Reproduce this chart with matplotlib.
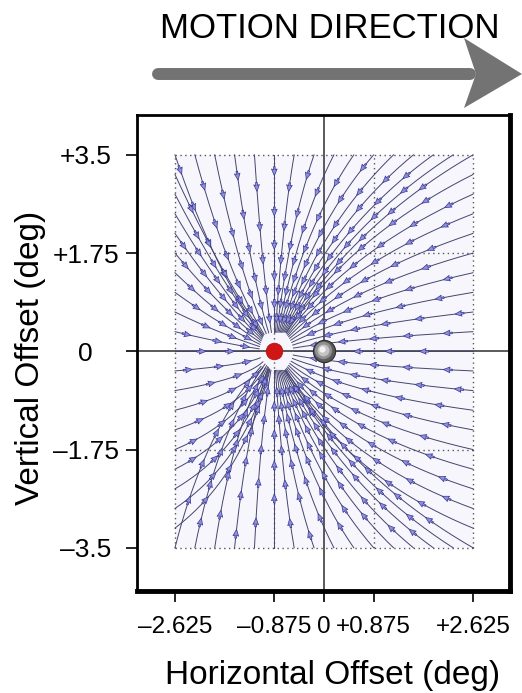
import numpy as np
import matplotlib
matplotlib.use('Agg')  # no display
import matplotlib.pyplot as plt
from matplotlib import font_manager
from matplotlib.patches import Polygon, Rectangle
from matplotlib.lines import Line2D

# positions (deg)
sink_x, sink_y = -0.875, 0.0      # red dot, where the lines converge
fix_x, fix_y = 0.0, 0.0           # gray sphere

field_x = [-2.625, 2.625]
field_y = [-3.5, 3.5]

# start points of the lines along the field border
edge_x = [-2.625, -2.275, -1.925, -1.575, -1.225, -0.875, -0.525, -0.175,
          0.175, 0.525, 0.875, 1.225, 1.575, 1.925, 2.275, 2.625]
edge_y = [-3.15, -2.8, -2.45, -2.1, -1.75, -1.4, -1.05, -0.7, -0.35, 0.0,
          0.35, 0.7, 1.05, 1.4, 1.75, 2.1, 2.45, 2.8, 3.15]

# bend of each group of lines: control point as share of the way (x, y)
bend = {
    'top_l': (0.4, 0.6), 'top_r': (0.6, 0.35),
    'bot_l': (0.3, 0.6), 'bot_r': (0.6, 0.35),
    'left_u': (0.45, 0.55), 'left_l': (0.7, 0.3),
    'right_u': (0.62, 0.35), 'right_l': (0.65, 0.3),
}
arrow_gap = [0.25, 0.75, 1.3, 1.9, 2.6, 3.3]   # arrow distances back from line end

x_ticks = [-2.625, -0.875, 0, 0.875, 2.625]
x_labels = ['\u20132.625', '\u20130.875', '0', '+0.875', '+2.625']
y_ticks = [3.5, 1.75, 0, -1.75, -3.5]
y_labels = ['+3.5', '+1.75', '0', '\u20131.75', '\u20133.5']
grid_x = [-2.625, -0.875, 0.875, 2.625]
grid_y = [-3.5, -1.75, 1.75, 3.5]

SANS = ['Liberation Sans', 'DejaVu Sans']
installed = {f.name for f in font_manager.fontManager.ttflist}
if 'Liberation Sans Narrow' in installed:
    TICK_FONT, X_SIZE, Y_SIZE = ['Liberation Sans Narrow', 'DejaVu Sans'], 21, 21
else:
    TICK_FONT, X_SIZE, Y_SIZE = SANS, 17.5, 19
W, H = 522, 693


def trace(sx, sy, group):
    """curved path from a border point towards the red dot"""
    S = np.array([sx, sy])
    R = np.array([sink_x, sink_y])
    ax_, ay_ = bend[group]
    C = S + (R - S) * np.array([ax_, ay_])
    dist = np.hypot(*(S - R))
    dc = C - R
    nc = np.hypot(*dc)
    if nc < 1e-9:
        dc, nc = S - R, dist
    E = R + dc / nc * (0.2 + 0.04 * dist)
    s = np.linspace(0, 1, 200)[:, None]
    P = (1 - s) ** 2 * S + 2 * s * (1 - s) * C + s ** 2 * E
    return P[:, 0], P[:, 1]


starts = []
for x in edge_x:
    starts.append((x, field_y[1], 'top_l' if x <= sink_x else 'top_r'))
    starts.append((x, field_y[0], 'bot_l' if x <= sink_x else 'bot_r'))
for y in edge_y:
    starts.append((field_x[0], y, 'left_u' if y >= 0 else 'left_l'))
    starts.append((field_x[1], y, 'right_u' if y >= 0 else 'right_l'))

fig = plt.figure(figsize=(W / 100, H / 100), dpi=100)
ax = fig.add_axes([137 / W, 1 - 591 / H, 373 / W, 476 / H])
ax.set_xlim(-3.294, 3.277)
ax.set_ylim(-4.27, 4.21)

ax.add_patch(Rectangle((field_x[0], field_y[0]), field_x[1] - field_x[0],
                       field_y[1] - field_y[0], facecolor='#f6f6fc',
                       edgecolor='none', zorder=0))
for gx in grid_x:
    ax.plot([gx, gx], field_y, color='#555555', ls=(0, (1, 2.5)), lw=1.0, zorder=1)
for gy in grid_y:
    ax.plot(field_x, [gy, gy], color='#555555', ls=(0, (1, 2.5)), lw=1.0, zorder=1)

ax.axhline(fix_y, color='#4d4d4d', lw=1.3, zorder=2)
ax.axvline(fix_x, color='#4d4d4d', lw=1.3, zorder=2)

qx, qy, qu, qv = [], [], [], []
for i, (sx, sy, group) in enumerate(starts):
    x, y = trace(sx, sy, group)
    ax.plot(x, y, color='#45456e', lw=0.7, zorder=3)
    seg = np.hypot(np.diff(x), np.diff(y))
    left = np.concatenate([[0], np.cumsum(seg)])
    left = left[-1] - left          # distance still to go
    shift = 0.13 * (i % 4)
    for g in arrow_gap:
        g = g + shift
        if g > left[0] - 0.2:
            break
        j = np.clip(np.argmin(np.abs(left - g)), 1, len(x) - 2)
        u, v = x[j + 1] - x[j - 1], y[j + 1] - y[j - 1]
        n = np.hypot(u, v)
        qx.append(x[j])
        qy.append(y[j])
        qu.append(u / n * 0.16)
        qv.append(v / n * 0.16)

ax.quiver(qx, qy, qu, qv, angles='xy', scale_units='xy', scale=1, pivot='mid',
          width=0.0045, headwidth=3.4, headlength=4, headaxislength=3.5,
          facecolor='#9090dc', edgecolor='#383890', linewidth=0.5, zorder=4)

# red dot and gray sphere
ax.plot(sink_x, sink_y, 'o', ms=12, mfc='#d01515', mec='#b01010', mew=0.5, zorder=6)
ax.plot(fix_x, fix_y, 'o', ms=16, mfc='#5a5a5a', mec='#2a2a2a', mew=0.8, zorder=6)
ax.plot(fix_x - 0.01, fix_y + 0.015, 'o', ms=12.5, mfc='#909090', mec='none', zorder=6)
ax.plot(fix_x - 0.02, fix_y + 0.03, 'o', ms=8.5, mfc='#c4c4c4', mec='none', zorder=6)
ax.plot(fix_x - 0.03, fix_y + 0.045, 'o', ms=4.5, mfc='#f2f2f2', mec='none', zorder=6)

ax.set_xticks(x_ticks)
ax.set_xticklabels(x_labels, family=TICK_FONT, fontsize=X_SIZE)
ax.set_yticks(y_ticks)
ax.set_yticklabels(y_labels, family=TICK_FONT, fontsize=Y_SIZE, ha='center')
ax.tick_params(direction='out', length=8, width=1.2, color='black')
ax.tick_params(axis='y', pad=29)
ax.tick_params(axis='x', pad=10)

for side in ['left', 'top']:
    ax.spines[side].set_linewidth(2.0)
for side in ['right', 'bottom']:
    ax.spines[side].set_linewidth(3.5)

fig.text(333 / W, 1 - 684 / H, 'Horizontal Offset (deg)', family=SANS,
         fontsize=24, ha='center', va='baseline')
fig.text(31 / W, 1 - 358 / H, 'Vertical Offset (deg)', family=SANS,
         fontsize=24, ha='center', va='center', rotation=90)
fig.text(330 / W, 1 - 38 / H, 'MOTION DIRECTION', family=SANS,
         fontsize=25, ha='center', va='baseline')

# motion arrow
fig.add_artist(Line2D([158 / W, 470 / W], [1 - 74 / H, 1 - 74 / H], lw=8.6,
                      color='#737373', solid_capstyle='round'))
fig.add_artist(Polygon([(464 / W, 1 - 38 / H), (522 / W, 1 - 74 / H),
                        (464 / W, 1 - 108 / H), (476 / W, 1 - 74 / H)],
                       closed=True, facecolor='#737373', edgecolor='none',
                       transform=fig.transFigure))

fig.savefig('out.png', dpi=100)
